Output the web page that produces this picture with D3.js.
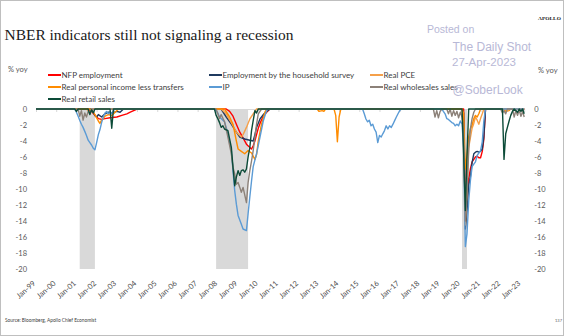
<!DOCTYPE html>
<html>
<head>
<meta charset="utf-8">
<script src="https://cdn.jsdelivr.net/npm/d3@7"></script>
<style>
  body { margin: 0; background: #fff; }
  svg { display: block; }
</style>
</head>
<body>
<svg id="chart" width="564" height="336"></svg>
<script>
// ---- data: % yoy, shown only when below zero ----
const yearTicks = d3.range(1999, 2024);
const tickLabels = yearTicks.map(y => "Jan-" + String(y % 100).padStart(2, "0"));
const yTicks = [0, -2, -4, -6, -8, -10, -12, -14, -16, -18, -20];
const recessions = [["2001-03", "2001-12"], ["2007-12", "2009-07"], ["2020-02", "2020-05"]];

const nfpEmployment = [
  ["1999-01", 0], ["2001-08", 0], ["2001-10", -0.3], ["2001-12", -0.8], ["2002-02", -1.2],
  ["2002-04", -1.3], ["2002-06", -1.2], ["2002-09", -1.1], ["2003-01", -1.0], ["2003-04", -0.8],
  ["2003-07", -0.6], ["2003-09", -0.4], ["2003-11", -0.2], ["2004-01", 0],
  ["2008-06", 0], ["2008-08", -0.3], ["2008-10", -0.9], ["2008-12", -1.9], ["2009-02", -2.9],
  ["2009-04", -3.6], ["2009-06", -4.4], ["2009-08", -4.8], ["2009-09", -5.0], ["2009-10", -4.6],
  ["2009-11", -4.0], ["2009-12", -3.2], ["2010-01", -2.4], ["2010-02", -1.8], ["2010-04", -0.9],
  ["2010-06", -0.4], ["2010-08", 0],
  ["2020-03", 0], ["2020-04", -13.0], ["2020-05", -11.5], ["2020-06", -8.7], ["2020-07", -7.5],
  ["2020-08", -6.6], ["2020-09", -6.3], ["2020-10", -6.0], ["2020-11", -5.9], ["2020-12", -6.1],
  ["2021-01", -6.1], ["2021-02", -5.3], ["2021-03", -3.8], ["2021-04", 0], ["2023-03", 0]
];

const householdEmployment = [
  ["1999-01", 0], ["2001-10", 0], ["2001-12", -0.8], ["2002-01", -1.0], ["2002-02", -0.7],
  ["2002-04", -1.0], ["2002-06", -0.6], ["2002-08", -0.4], ["2002-10", -0.5], ["2003-01", -0.3],
  ["2003-03", -0.4], ["2003-05", 0],
  ["2008-03", 0], ["2008-06", -1.0], ["2008-09", -1.9], ["2008-12", -2.9], ["2009-02", -3.5],
  ["2009-05", -3.75], ["2009-08", -3.9], ["2009-10", -4.0], ["2009-11", -3.2], ["2009-12", -2.3],
  ["2010-02", -1.25], ["2010-04", -0.7], ["2010-06", -0.3], ["2010-08", 0],
  ["2020-02", 0], ["2020-03", -0.5], ["2020-04", -15.0], ["2020-05", -12.8], ["2020-06", -9.5],
  ["2020-07", -8.5], ["2020-08", -6.7], ["2020-09", -5.6], ["2020-10", -5.4], ["2020-11", -5.3],
  ["2020-12", -5.4], ["2021-01", -5.3], ["2021-02", -5.0], ["2021-03", -3.5], ["2021-04", 0],
  ["2023-03", 0]
];

const realPCE = [
  ["1999-01", 0], ["2001-07", 0], ["2001-09", -0.4], ["2001-10", 0],
  ["2008-03", 0], ["2008-06", -0.6], ["2008-07", -1.0], ["2008-09", -1.7], ["2008-10", -2.1],
  ["2008-12", -2.9], ["2009-02", -3.3], ["2009-03", -3.5], ["2009-04", -3.2], ["2009-06", -2.3],
  ["2009-08", -1.25], ["2009-10", -0.6], ["2009-12", 0],
  ["2020-02", 0], ["2020-03", -3.0], ["2020-04", -14.5], ["2020-05", -9.5], ["2020-06", -4.8],
  ["2020-07", -3.6], ["2020-08", -2.4], ["2020-09", -1.8], ["2020-10", -1.0], ["2020-11", -1.4],
  ["2020-12", -1.9], ["2021-01", -1.2], ["2021-02", -0.6], ["2021-03", 0], ["2023-03", 0]
];

const realIncomeLessTransfers = [
  ["1999-01", 0], ["2001-09", 0], ["2001-11", -0.4], ["2001-12", -0.7], ["2002-01", -1.1],
  ["2002-02", -1.5], ["2002-03", -1.8], ["2002-04", -1.4], ["2002-06", -0.9], ["2002-08", -0.7],
  ["2002-10", -0.8], ["2002-12", -0.4], ["2003-02", 0],
  ["2008-05", 0], ["2008-08", -1.0], ["2008-10", -1.9], ["2008-12", -4.0], ["2009-01", -5.0],
  ["2009-03", -5.3], ["2009-05", -5.6], ["2009-07", -5.2], ["2009-09", -5.5], ["2009-11", -6.3],
  ["2009-12", -5.7], ["2010-01", -4.0], ["2010-03", -1.9], ["2010-05", -0.4], ["2010-06", 0],
  ["2012-12", 0], ["2013-01", -0.3], ["2013-03", -0.2], ["2013-04", -0.3], ["2013-05", 0],
  ["2013-10", 0], ["2013-11", -0.8], ["2013-12", -4.1], ["2014-01", -1.0], ["2014-02", 0],
  ["2020-02", 0], ["2020-03", -0.5], ["2020-04", -7.5], ["2020-05", -5.8], ["2020-06", -3.5],
  ["2020-07", -2.5], ["2020-08", -2.0], ["2020-09", -1.2], ["2020-10", -0.8], ["2020-11", -1.0],
  ["2020-12", -0.6], ["2021-01", 0],
  ["2022-03", 0], ["2022-04", -0.3], ["2022-06", -0.2], ["2022-07", 0], ["2023-03", 0]
];

const industrialProduction = [
  ["1999-01", 0], ["2000-12", 0], ["2001-01", -0.4], ["2001-02", -0.9], ["2001-03", -1.4],
  ["2001-04", -1.9], ["2001-05", -2.3], ["2001-06", -2.8], ["2001-07", -3.3], ["2001-08", -3.9],
  ["2001-09", -4.2], ["2001-10", -4.5], ["2001-11", -4.9], ["2001-12", -5.1], ["2002-01", -4.2],
  ["2002-02", -3.2], ["2002-03", -2.6], ["2002-04", -1.7], ["2002-05", -1.0], ["2002-06", -0.5],
  ["2002-07", -0.3], ["2002-08", -0.6], ["2002-09", -0.3], ["2002-10", -0.6], ["2002-11", -0.2],
  ["2002-12", 0],
  ["2007-11", 0], ["2008-01", -0.5], ["2008-02", -1.0], ["2008-04", -1.4], ["2008-05", -1.6],
  ["2008-07", -3.1], ["2008-09", -5.2], ["2008-10", -7.7], ["2008-11", -10.2], ["2008-12", -11.9],
  ["2009-01", -13.3], ["2009-03", -14.4], ["2009-04", -15.0], ["2009-06", -15.2], ["2009-07", -13.1],
  ["2009-08", -11.0], ["2009-09", -9.0], ["2009-10", -7.2], ["2009-12", -5.6], ["2010-02", -3.5],
  ["2010-04", -1.5], ["2010-06", -0.2], ["2010-07", 0],
  ["2015-03", 0], ["2015-04", -0.6], ["2015-05", -1.25], ["2015-06", -1.6], ["2015-07", -1.4],
  ["2015-08", -2.1], ["2015-09", -1.9], ["2015-10", -2.5], ["2015-11", -2.9], ["2015-12", -4.2],
  ["2016-01", -3.3], ["2016-02", -3.5], ["2016-03", -3.1], ["2016-04", -2.7], ["2016-05", -2.1],
  ["2016-06", -2.5], ["2016-07", -2.1], ["2016-08", -2.3], ["2016-09", -1.9], ["2016-10", -1.45],
  ["2016-11", -1.0], ["2016-12", -0.6], ["2017-01", -0.2], ["2017-02", 0],
  ["2019-02", 0], ["2019-03", -0.3], ["2019-04", -0.6], ["2019-05", -1.2], ["2019-06", -1.3],
  ["2019-07", -1.5], ["2019-08", -1.7], ["2019-09", -1.8], ["2019-10", -2.1], ["2019-11", -1.9],
  ["2019-12", -2.1], ["2020-01", -1.5], ["2020-02", -1.9], ["2020-03", -4.8], ["2020-04", -17.2],
  ["2020-05", -15.6], ["2020-06", -11.5], ["2020-07", -9.0], ["2020-08", -7.2], ["2020-09", -6.9],
  ["2020-10", -6.6], ["2020-11", -5.8], ["2020-12", -5.5], ["2021-01", -5.2], ["2021-02", -4.1],
  ["2021-03", -1.5], ["2021-04", 0], ["2023-03", 0]
];

const realWholesaleSales = [
  ["1999-01", 0], ["2001-02", 0], ["2001-03", -0.9], ["2001-04", -0.2], ["2001-05", -1.4],
  ["2001-06", -0.5], ["2001-07", -1.0], ["2001-08", -0.3], ["2001-09", -0.6], ["2001-10", 0],
  ["2007-12", 0], ["2008-02", -1.2], ["2008-03", -0.7], ["2008-05", -1.6], ["2008-07", -3.5],
  ["2008-09", -5.6], ["2008-10", -7.3], ["2008-11", -8.1], ["2008-12", -9.4], ["2009-01", -9.2],
  ["2009-02", -9.8], ["2009-03", -10.4], ["2009-04", -9.8], ["2009-06", -11.7], ["2009-07", -9.2],
  ["2009-08", -7.7], ["2009-09", -6.5], ["2009-10", -5.2], ["2009-11", -3.5], ["2009-12", -1.9],
  ["2010-01", -0.6], ["2010-03", 0],
  ["2018-09", 0], ["2018-10", -1.0], ["2018-11", -0.2], ["2018-12", -1.1], ["2019-01", -0.3],
  ["2019-02", 0], ["2019-05", 0], ["2019-06", -0.6], ["2019-07", 0], ["2019-08", -0.9],
  ["2019-09", -0.2], ["2019-10", -0.8], ["2019-11", -0.3], ["2019-12", -1.1], ["2020-01", -0.4],
  ["2020-02", -1.0], ["2020-03", -3.0], ["2020-04", -14.0], ["2020-05", -11.0], ["2020-06", -5.0],
  ["2020-07", -2.5], ["2020-08", -1.2], ["2020-09", -0.4], ["2020-10", 0],
  ["2022-01", 0], ["2022-02", -0.5], ["2022-03", -0.2], ["2022-04", -0.6], ["2022-05", 0],
  ["2022-08", 0], ["2022-09", -1.0], ["2022-10", -0.2], ["2022-11", -0.8], ["2022-12", -0.1],
  ["2023-01", -0.9], ["2023-02", -0.3], ["2023-03", -1.0]
];

const realRetailSales = [
  ["1999-01", 0], ["2000-12", 0], ["2001-01", -0.3], ["2001-02", 0], ["2001-08", 0],
  ["2001-09", -0.7], ["2001-10", -0.1], ["2001-11", -0.5], ["2001-12", 0],
  ["2002-09", 0], ["2002-10", -2.4], ["2002-11", 0],
  ["2007-11", 0], ["2007-12", -0.8], ["2008-01", -1.2], ["2008-02", -1.7], ["2008-03", -2.3],
  ["2008-04", -2.1], ["2008-05", -2.5], ["2008-07", -2.7], ["2008-09", -4.8], ["2008-10", -7.3],
  ["2008-11", -9.6], ["2008-12", -8.5], ["2009-01", -7.7], ["2009-02", -8.3], ["2009-03", -7.7],
  ["2009-04", -7.6], ["2009-05", -7.9], ["2009-06", -7.5], ["2009-07", -6.0], ["2009-08", -4.8],
  ["2009-09", -2.7], ["2009-10", -1.45], ["2009-11", -0.2], ["2009-12", -0.5], ["2010-01", 0],
  ["2020-02", 0], ["2020-03", -5.5], ["2020-04", -12.7], ["2020-05", -5.8], ["2020-06", 0],
  ["2022-02", 0], ["2022-03", -6.3], ["2022-04", -3.1], ["2022-05", -2.3], ["2022-06", -1.5],
  ["2022-07", -0.8], ["2022-08", -0.3], ["2022-09", 0], ["2022-11", -0.4], ["2022-12", 0],
  ["2023-01", -0.3], ["2023-02", 0], ["2023-03", -0.6]
];

// series in drawing order (later ones sit on top)
const series = [
  { name: "NFP employment", color: "#ff0000", data: nfpEmployment },
  { name: "Employment by the household survey", color: "#1f3a5f", data: householdEmployment },
  { name: "Real PCE", color: "#f5a04a", data: realPCE },
  { name: "Real personal income less transfers", color: "#ff8c00", data: realIncomeLessTransfers },
  { name: "IP", color: "#5b9bd5", data: industrialProduction },
  { name: "Real wholesales sales", color: "#8c8178", data: realWholesaleSales },
  { name: "Real retail sales", color: "#0c4b38", data: realRetailSales }
];

// ---- drawing ----
const parseMonth = d3.timeParse("%Y-%m");
const svg = d3.select("#chart");
const W = 564, H = 336;
const plot = { left: 36, right: 524.2, top: 109, bottom: 269 };
const sansFont = "Lato, 'Liberation Sans', sans-serif";

svg.append("rect").attr("width", W).attr("height", H).attr("fill", "#fff");

const x = d3.scaleTime()
  .domain([parseMonth("1999-01"), parseMonth("2023-03")])
  .range([plot.left, plot.right]);
const y = d3.scaleLinear().domain([-20, 0]).range([plot.bottom, plot.top]);

// recession bands
svg.append("g").selectAll("rect").data(recessions).join("rect")
  .attr("x", d => x(parseMonth(d[0])))
  .attr("width", d => x(parseMonth(d[1])) - x(parseMonth(d[0])))
  .attr("y", y(0))
  .attr("height", y(-20) - y(0))
  .attr("fill", "#d9d9d9");

// left and right value axes
const fmt = d => String(d);
const leftAxis = svg.append("g").attr("transform", `translate(${plot.left},0)`)
  .call(d3.axisLeft(y).tickValues(yTicks).tickSize(0).tickPadding(9).tickFormat(fmt));
const rightAxis = svg.append("g").attr("transform", `translate(${plot.right},0)`)
  .call(d3.axisRight(y).tickValues(yTicks).tickSize(0).tickPadding(10).tickFormat(fmt));
[leftAxis, rightAxis].forEach(g => {
  g.select(".domain").remove();
  g.selectAll("text").attr("fill", "#595959").style("font-family", sansFont).style("font-size", "7.5px");
});

// time axis on the zero line, labels set low
const tickDates = yearTicks.map(yr => new Date(yr, 0, 1));
const xAxis = svg.append("g").attr("transform", `translate(0,${y(0)})`)
  .call(d3.axisBottom(x).tickValues(tickDates).tickSize(3)
    .tickFormat((d, i) => tickLabels[i]));
xAxis.select(".domain").attr("stroke", "#d9d9d9");
xAxis.selectAll(".tick line").attr("stroke", "#d9d9d9");
xAxis.selectAll("text")
  .attr("y", 0).attr("dy", 0)
  .attr("transform", `translate(-0.5,${284 - y(0)}) rotate(-42)`)
  .style("text-anchor", "end")
  .style("font-family", sansFont).style("font-size", "7.5px")
  .attr("fill", "#4d4d4d");

// series lines
const line = d3.line()
  .x(d => x(parseMonth(d[0])))
  .y(d => y(d[1]));
svg.append("g").selectAll("path").data(series).join("path")
  .attr("d", d => line(d.data))
  .attr("fill", "none")
  .attr("stroke", d => d.color)
  .attr("stroke-width", 1.4)
  .attr("stroke-linejoin", "round");

// legend, three columns
const legendCols = [48, 209, 370];
const legendRows = [75, 87, 99];
const legendOrder = [0, 1, 2, 3, 4, 5, 6];
const legend = svg.append("g");
legendOrder.forEach((si, k) => {
  const s = series[si];
  const lx = legendCols[k % 3], ly = legendRows[Math.floor(k / 3)];
  legend.append("line")
    .attr("x1", lx).attr("x2", lx + 13).attr("y1", ly).attr("y2", ly)
    .attr("stroke", s.color).attr("stroke-width", 2);
  legend.append("text")
    .attr("x", lx + 13.5).attr("y", ly + 2.8)
    .attr("fill", "#404040")
    .style("font-family", sansFont).style("font-size", "8px")
    .text(s.name);
});

// unit labels
svg.append("text").attr("x", 8).attr("y", 72).text("% yoy")
  .attr("fill", "#595959").style("font-family", sansFont).style("font-size", "7.5px");
svg.append("text").attr("x", 538).attr("y", 72.5).text("% yoy")
  .attr("fill", "#595959").style("font-family", sansFont).style("font-size", "7.5px");

// title and brand
svg.append("text").attr("x", 4.5).attr("y", 39.5)
  .attr("textLength", 289).attr("lengthAdjust", "spacingAndGlyphs")
  .attr("fill", "#1a1a1a")
  .style("font-family", "'Liberation Serif', serif").style("font-size", "15.5px")
  .text("NBER indicators still not signaling a recession");
svg.append("text").attr("x", 538).attr("y", 19.5)
  .attr("textLength", 23).attr("lengthAdjust", "spacingAndGlyphs")
  .attr("fill", "#222").attr("font-weight", "bold")
  .style("font-family", "'Liberation Serif', serif").style("font-size", "5px")
  .text("APOLLO");

// footer
svg.append("text").attr("x", 5).attr("y", 321.5)
  .attr("fill", "#404040").style("font-family", sansFont).style("font-size", "4.8px")
  .text("Source: Bloomberg, Apollo Chief Economist");
svg.append("text").attr("x", 555).attr("y", 321.5)
  .attr("fill", "#595959").style("font-family", sansFont).style("font-size", "4px")
  .text("137");

// posting stamp
const stamp = svg.append("g").attr("fill", "#b8b8d6")
  .style("font-family", "'Liberation Sans', Arial, sans-serif");
stamp.append("text").attr("x", 427).attr("y", 32.5).style("font-size", "10.5px").text("Posted on");
stamp.append("text").attr("x", 452.5).attr("y", 50.5).style("font-size", "12px").text("The Daily Shot");
stamp.append("text").attr("x", 452).attr("y", 65.5).style("font-size", "11.5px").text("27-Apr-2023");
stamp.append("text").attr("x", 452.5).attr("y", 94).style("font-size", "12px").text("@SoberLook");

// frame
svg.append("rect").attr("x", 0.5).attr("y", 0.5).attr("width", W - 1).attr("height", H - 1)
  .attr("fill", "none").attr("stroke", "#bfbfbf");
</script>
</body>
</html>
